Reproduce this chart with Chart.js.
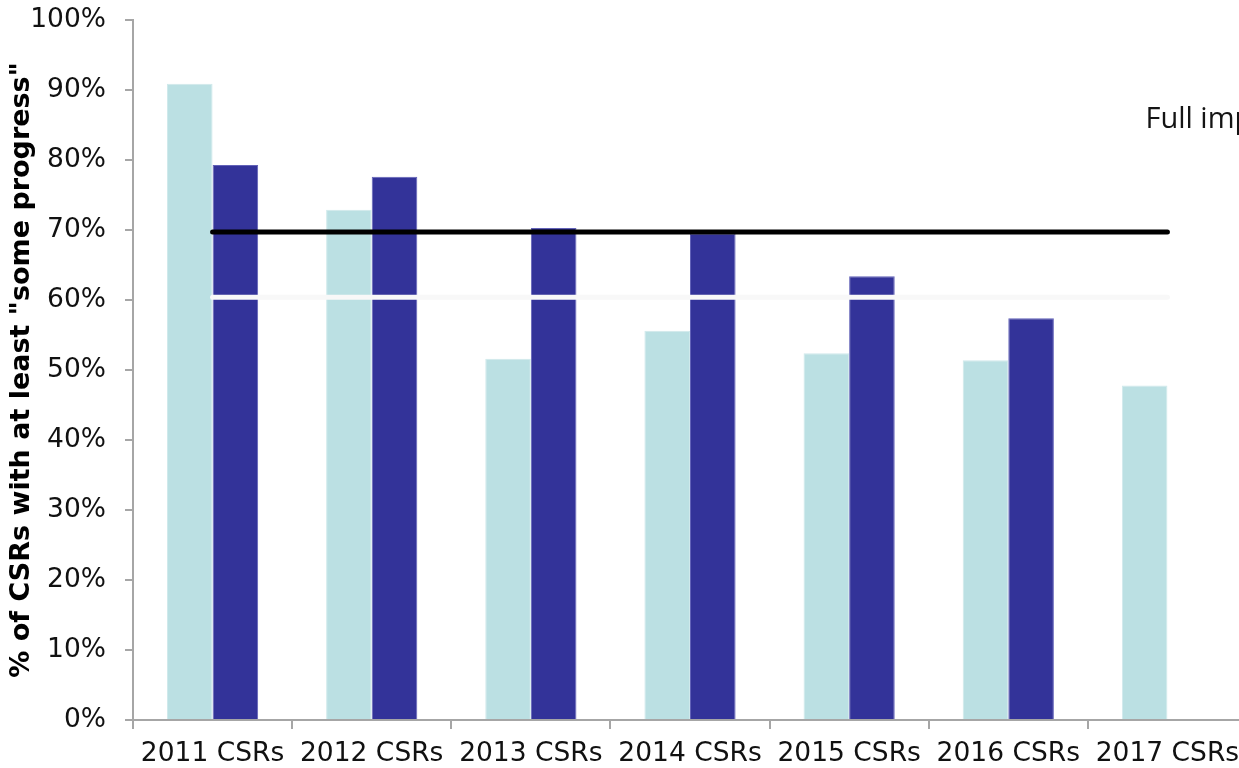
<!DOCTYPE html>
<html>
<head>
<meta charset="utf-8">
<script src="https://cdn.jsdelivr.net/npm/chart.js@4.4.1/dist/chart.umd.min.js"></script>
<style>
    html, body { margin: 0; padding: 0; overflow: hidden; background: #fff; }
    #wrap { width: 1260px; height: 768px; }
</style>
</head>
<body>
<div id="wrap"><canvas id="csrChart" width="1260" height="768"></canvas></div>
<script>
// Data
const categories = ["2011 CSRs", "2012 CSRs", "2013 CSRs", "2014 CSRs", "2015 CSRs", "2016 CSRs", "2017 CSRs"];
const lightSeries = [90.9, 72.9, 51.6, 55.6, 52.4, 51.4, 47.8];
const darkSeries = [79.3, 77.6, 70.3, 69.5, 63.4, 57.4, null];
const blackLevel = [69.7, 69.7, 69.7, 69.7, 69.7, 69.7, 69.7];
const whiteLevel = [60.4, 60.4, 60.4, 60.4, 60.4, 60.4, 60.4];
const yTicks = [0, 10, 20, 30, 40, 50, 60, 70, 80, 90, 100];
const noteText = "Full implementation";
const noteAt = { index: 6, value: 84.6 };

const axisGrey = "#a6a6a6";
const tickFont = { family: "'DejaVu Sans', Verdana, sans-serif", size: 26.5 };

// Cut-off annotation at the upper right
const notePlugin = {
    id: "note",
    afterDatasetsDraw(chart) {
        const { ctx, scales } = chart;
        const x = scales.x.getPixelForValue(noteAt.index) - 22;
        const y = scales.y.getPixelForValue(noteAt.value);
        ctx.save();
        ctx.font = "29px 'Open Sans', 'Liberation Sans', sans-serif";
        ctx.fillStyle = "#141414";
        ctx.textAlign = "left";
        ctx.textBaseline = "alphabetic";
        ctx.fillText(noteText, x, y);
        ctx.restore();
    }
};

new Chart(document.getElementById("csrChart").getContext("2d"), {
    type: "bar",
    data: {
        labels: categories,
        datasets: [
            {
                type: "line",
                data: blackLevel,
                borderColor: "#000",
                borderWidth: 5,
                borderCapStyle: "round",
                pointRadius: 0,
                order: 0
            },
            {
                type: "line",
                data: whiteLevel,
                borderColor: "#f8f8f8",
                borderWidth: 5,
                borderCapStyle: "round",
                pointRadius: 0,
                order: 1
            },
            {
                data: lightSeries,
                backgroundColor: "#bbe0e3",
                borderColor: "#cfe9eb",
                borderWidth: 1,
                order: 2
            },
            {
                data: darkSeries,
                backgroundColor: "#333399",
                borderColor: "#6262b8",
                borderWidth: 1,
                order: 3
            }
        ]
    },
    options: {
        responsive: false,
        animation: false,
        events: [],
        layout: { padding: { top: 20, right: 13, left: 0, bottom: 0 } },
        datasets: { bar: { categoryPercentage: 0.573, barPercentage: 1 } },
        plugins: { legend: { display: false }, tooltip: { enabled: false } },
        scales: {
            x: {
                offset: true,
                grid: { display: true, offset: true, drawOnChartArea: false, drawTicks: true, tickLength: 9, color: axisGrey, lineWidth: 2 },
                border: { display: true, color: axisGrey, width: 2 },
                ticks: { font: tickFont, color: "#111", padding: 9, maxRotation: 0, autoSkip: false },
                afterFit(scale) { scale.height = 48; }
            },
            y: {
                min: 0,
                max: 100,
                afterBuildTicks(scale) { scale.ticks = yTicks.map(v => ({ value: v })); },
                grid: { display: true, drawOnChartArea: false, drawTicks: true, tickLength: 8, color: axisGrey, lineWidth: 2 },
                border: { display: true, color: axisGrey, width: 2 },
                ticks: { font: tickFont, color: "#111", padding: 19, callback: v => v + "%" },
                title: {
                    display: true,
                    text: '% of CSRs with at least "some progress"',
                    font: { family: "'DejaVu Sans', Verdana, sans-serif", size: 27, weight: "bold" },
                    color: "#000",
                    padding: { top: 6, bottom: 0 }
                },
                afterFit(scale) {
                    scale.width = 133;
                    scale.paddingTop = 0;
                    scale.paddingBottom = 0;
                }
            }
        }
    },
    plugins: [notePlugin]
});
</script>
</body>
</html>
